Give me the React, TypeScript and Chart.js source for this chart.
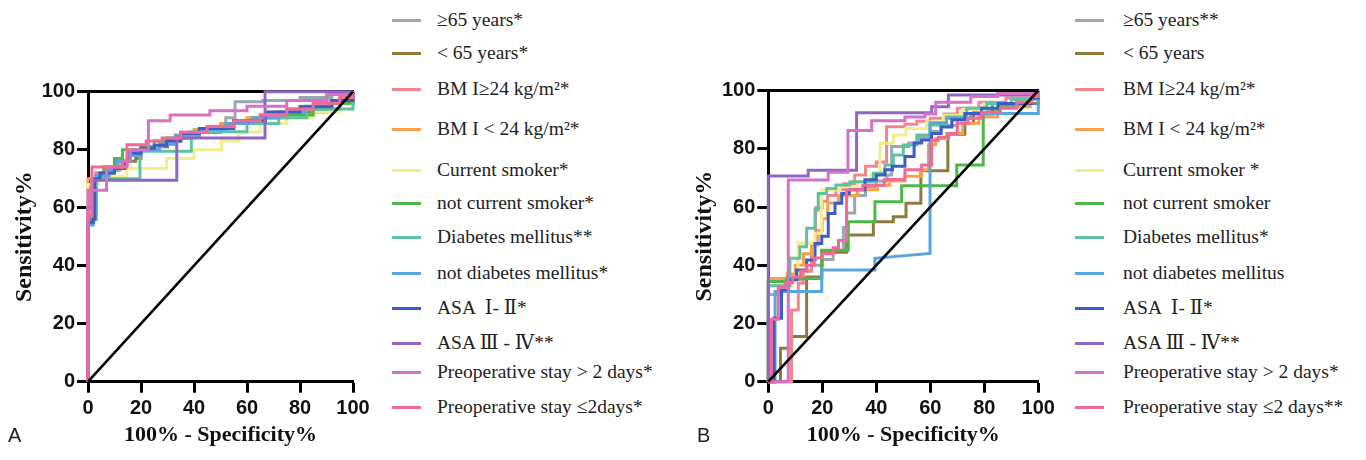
import React, { useEffect, useRef } from "react";
import { Chart, registerables } from "chart.js";

Chart.register(...registerables);

type Pt = [number, number];

// ---------- legend labels ----------
const LABELS_A = [
  "≥65 years*",
  "< 65 years*",
  "BM I≥24 kg/m²*",
  "BM I < 24 kg/m²*",
  "Current smoker*",
  "not current smoker*",
  "Diabetes mellitus**",
  "not diabetes mellitus*",
  "ASA  Ⅰ- Ⅱ*",
  "ASA Ⅲ - Ⅳ**",
  "Preoperative stay > 2 days*",
  "Preoperative stay ≤2days*",
];
const LABELS_B = [
  "≥65 years**",
  "< 65 years",
  "BM I≥24 kg/m²*",
  "BM I < 24 kg/m²*",
  "Current smoker *",
  "not current smoker",
  "Diabetes mellitus*",
  "not diabetes mellitus",
  "ASA  Ⅰ- Ⅱ*",
  "ASA Ⅲ - Ⅳ**",
  "Preoperative stay > 2 days*",
  "Preoperative stay ≤2 days**",
];

const AXIS_TICKS = [0, 20, 40, 60, 80, 100];
const X_TITLE = "100% - Specificity%";
const Y_TITLE = "Sensitivity%";

// ---------- panel A ROC curves (100%-specificity, sensitivity) ----------
const A_GE65: Pt[] = [[0,0],[0,57],[1.5,68],[3,72],[8,73],[12,76],[16,79],[20,80],[27,82],[33,84],[40,86],[48,88],[52,91],[55.5,96.5],[66,97],[80,98],[92,99],[100,100]];
const A_LT65: Pt[] = [[0,0],[0,56],[2,58],[3,70],[6,72],[10,74],[12,76],[18,77],[20,80],[26,81],[30,83],[35,85],[42,86],[50,88],[55,89],[63,91],[72,92],[80,93],[90,96],[100,98],[100,100]];
const A_BMI_GE24: Pt[] = [[0,0],[0,58],[2,60],[3,72],[8,73],[12,76],[15,79],[20,81],[28,83],[35,86],[45,88],[55,90],[65,92],[75,94],[85,96],[95,98],[100,100]];
const A_BMI_LT24: Pt[] = [[0,0],[0,70],[3,71],[6,73],[12,75],[15,78],[20,80],[27,82],[33,85],[40,87],[50,89],[60,91],[70,93],[80,95],[90,97],[100,99],[100,100]];
const A_SMOKER: Pt[] = [[0,0],[0,68],[4,70.7],[14.7,73.5],[29.7,77],[40,80],[50.4,83],[57,86],[65,89],[75,91],[85,93],[95,96],[100,97],[100,100]];
const A_NONSMOKER: Pt[] = [[0,0],[0,55],[2,56],[3,70],[6,74],[10,77],[13,80],[20,81],[25,83],[30,84],[38,86],[45,88],[55,90],[65,91],[75,92],[85,94],[95,96],[100,97],[100,100]];
const A_DM: Pt[] = [[0,0],[0,55],[2,70],[19.6,79.5],[39,86.2],[60,89],[72,91],[82.5,94],[100,94],[100,100]];
const A_NO_DM: Pt[] = [[0,0],[0,54],[2,56],[3,71],[8,73],[11,76],[15,78],[20,80],[27,82],[33,85],[42,87],[52,89],[62,91],[72,93],[82,95],[92,97],[100,98.5],[100,100]];
const A_ASA12: Pt[] = [[0,0],[0,55],[2,56],[2.5,70],[4.5,72],[10,73.5],[14,76],[15.8,78.8],[20,80.5],[25,81.5],[29.7,83],[35,85.6],[42,87.3],[55,90],[67,93],[80,94.8],[92,97],[100,99],[100,100]];
const A_ASA34: Pt[] = [[0,0],[0,60],[1.5,69.5],[33.5,84],[66.8,100],[100,100]];
const A_STAY_GT2: Pt[] = [[0,0],[0,66],[7,74],[13,76],[16,80],[22.8,90],[31,92],[46,93.4],[60,95],[75,97],[90,99],[100,100]];
const A_STAY_LE2: Pt[] = [[0,0],[0,57],[1.5,74],[14.7,81.7],[22,83],[28,84],[35,86],[45,88],[55,90],[65,92],[75,94],[85,96],[95,98],[100,100]];

// ---------- panel B ROC curves ----------
const B_GE65: Pt[] = [[0,0],[0,30],[4,33],[8,35],[12,38],[16,40],[20,42],[24,45],[27.8,53],[29,58],[32,64],[36,67],[40,69],[44,71],[45.7,80.8],[52,82],[56,84],[60,86],[64,88],[70,90.5],[76,93],[85,95],[95,97],[100,98.5],[100,100]];
const B_LT65: Pt[] = [[0,0],[4.5,11.5],[8.6,15.5],[14.2,36],[19.8,44.5],[29,50.4],[38.9,55],[46.3,56.7],[51,61.3],[56.5,72.5],[66.5,85],[72.8,88.8],[76,92],[83,95.6],[100,98],[100,100]];
const B_BMI_GE24: Pt[] = [[0,0],[8.6,24.6],[11.1,33.8],[13,38],[16,47.5],[17.5,59.8],[20,62],[22,64],[25,66],[28,68],[32,71],[36,74],[40,75.5],[43.8,87.6],[50.6,88.5],[55,89.5],[60,90.5],[65,92],[70,94],[78,96],[88,97.5],[100,99],[100,100]];
const B_BMI_LT24: Pt[] = [[0,0],[0,35.5],[7,37],[10,40],[13,44],[16,47],[18.5,52],[20,56],[22,61.4],[26,64],[33,66],[40.4,67.5],[45,69],[50.6,70.6],[56.8,72.8],[59.3,81.4],[62,83.6],[66,85.3],[72,88.8],[78,91],[85,94.5],[97,97.5],[100,99],[100,100]];
const B_SMOKER: Pt[] = [[0,0],[0,33],[8.6,36],[11,47.6],[17.3,51],[19.8,65.9],[26.5,67],[33,69],[38,71],[41.4,81.9],[46.3,84.8],[51,87],[58.6,89.3],[64.8,91.6],[72,93.5],[80,95.5],[90,97],[100,98.5],[100,100]];
const B_NONSMOKER: Pt[] = [[0,0],[0,34.4],[6.8,35.5],[19.8,45.2],[29.6,55],[39.5,61.8],[49.4,67.3],[69.8,74.5],[79.6,92.2],[85,95],[92,97],[100,98],[100,100]];
const B_DM: Pt[] = [[0,0],[0,33],[8,42.4],[11.7,46.4],[14.2,52.7],[17.3,59],[18.5,64.7],[21.6,66.4],[25,67.6],[30.2,68.7],[38.9,71.6],[43.2,74.5],[46.3,77.9],[50,81.3],[55,84.8],[59.9,88.2],[66,91],[73.5,94],[80.9,95.6],[90,97],[100,98],[100,100]];
// this curve contains a sloped (tied) segment, so its corners are listed explicitly
const B_NO_DM: Pt[] = [[0,0],[2.5,0],[2.5,31],[19.8,31],[19.8,38.4],[39.5,38.4],[39.5,42.4],[59.9,44.1],[59.9,89],[66,89],[66,90.5],[75,90.5],[75,92.2],[100,92.2],[100,100]];
const B_ASA12: Pt[] = [[0,0],[2.1,21.8],[4.9,31.5],[7.4,35],[10.5,38.4],[14.2,41.8],[17.3,47.5],[19.8,50],[22.2,57.8],[24.7,61.3],[27.2,64.7],[30,66],[35.8,69.4],[40,71],[43.2,72.8],[46,74],[50.6,77.4],[54,82],[56.8,83.1],[60.5,85.3],[64,87.5],[68,90],[72.8,92.2],[79,94],[85.2,95.6],[97.5,97.5],[100,99],[100,100]];
const B_ASA34: Pt[] = [[0,0],[0,70.7],[14.8,72.7],[32.7,92.4],[60.5,94.5],[66.7,98.5],[100,99],[100,100]];
const B_STAY_GT2: Pt[] = [[0,0],[7.4,69.3],[22.2,72],[29.5,86.3],[38.3,89.7],[50.6,91],[58,92],[62,96],[75,98],[85,99],[100,100]];
const B_STAY_LE2: Pt[] = [[0,0],[1.2,21.5],[3.7,32.5],[6.2,34],[9,36],[12,38],[14.2,40],[17,42.5],[20,44],[24,46],[26,48.5],[29,66],[35,67.5],[43,69.5],[50.6,72.8],[56.8,74.5],[60.5,83],[63,84],[66.7,85.3],[70,88.8],[74,90.5],[79,92.5],[86,94],[92,96],[97.5,98],[100,100]];

const REFERENCE_LINE: Pt[] = [[0,0],[100,100]];

const SERIES_A: Pt[][] = [A_GE65, A_LT65, A_BMI_GE24, A_BMI_LT24, A_SMOKER, A_NONSMOKER, A_DM, A_NO_DM, A_ASA12, A_ASA34, A_STAY_GT2, A_STAY_LE2];
const SERIES_B: Pt[][] = [B_GE65, B_LT65, B_BMI_GE24, B_BMI_LT24, B_SMOKER, B_NONSMOKER, B_DM, B_NO_DM, B_ASA12, B_ASA34, B_STAY_GT2, B_STAY_LE2];
const SLOPED_B = [false, false, false, false, false, false, false, true, false, false, false, false];
const SLOPED_A = SLOPED_B.map(() => false);

// ---------- styles ----------
const COLORS = [
  "#9aa6b4", "#8c7b3e", "#f2868e", "#f7a04a", "#f3ee8c", "#4cb848",
  "#5ec3a0", "#58a6e0", "#3c5cc6", "#9066c4", "#d472c6", "#f06a98",
];
const LEGEND_Y = [20, 53, 89, 129, 170, 203, 237, 273, 308, 343, 372, 407];
const SANS = '"Liberation Sans", Arial, Helvetica, sans-serif';
const SERIF = '"Liberation Serif", "Times New Roman", "DejaVu Serif", serif';

type PanelProps = {
  series: Pt[][];
  sloped: boolean[];
  left: number;
  padTop: number;
  padRight: number;
  axisWidth: number;
};

function RocPanel({ series, sloped, left, padTop, padRight, axisWidth }: PanelProps) {
  const ref = useRef<HTMLCanvasElement>(null);
  useEffect(() => {
    if (!ref.current) return;
    const datasets: any[] = series.map((pts, i) => ({
      label: String(i),
      data: pts.map(([x, y]) => ({ x, y })),
      borderColor: COLORS[i],
      backgroundColor: COLORS[i],
      borderWidth: 3,
      pointRadius: 0,
      fill: false,
      tension: 0,
      stepped: sloped[i] ? false : "before",
      clip: false,
      order: 20 - i,
    }));
    datasets.push({
      label: "ref",
      data: REFERENCE_LINE.map(([x, y]) => ({ x, y })),
      borderColor: "#000",
      borderWidth: 2.6,
      pointRadius: 0,
      fill: false,
      clip: false,
      order: 0,
    });
    const tickGrid = {
      display: true,
      drawOnChartArea: false,
      drawTicks: true,
      tickLength: 11,
      tickWidth: 3,
      tickColor: "#000",
    };
    const chart = new Chart(ref.current, {
      type: "line",
      data: { datasets },
      options: {
        responsive: false,
        animation: false,
        events: [],
        layout: { padding: { left: 0, top: padTop, right: padRight, bottom: 0 } },
        plugins: { legend: { display: false }, tooltip: { enabled: false } },
        scales: {
          x: {
            type: "linear",
            position: "bottom",
            min: AXIS_TICKS[0],
            max: AXIS_TICKS[AXIS_TICKS.length - 1],
            afterBuildTicks: (s: any) => { s.ticks = AXIS_TICKS.map((v) => ({ value: v })); },
            ticks: { font: { family: SANS, size: 20, weight: "bold" }, color: "#111", padding: 4, maxRotation: 0, autoSkip: false },
            grid: tickGrid,
            border: { display: true, color: "#000", width: 3 },
            title: { display: true, text: X_TITLE, font: { family: SERIF, size: 22, weight: "bold" }, color: "#111", padding: { top: 0, bottom: 11 } },
            afterFit: (s: any) => { s.height = 460 - 381.7; },
          },
          x2: {
            type: "linear",
            position: "top",
            min: 0,
            max: 100,
            ticks: { display: false },
            grid: { display: false },
            border: { display: true, color: "#000", width: 3 },
            afterFit: (s: any) => { s.height = 0; },
          },
          y: {
            type: "linear",
            position: "left",
            min: AXIS_TICKS[0],
            max: AXIS_TICKS[AXIS_TICKS.length - 1],
            afterBuildTicks: (s: any) => { s.ticks = AXIS_TICKS.map((v) => ({ value: v })); },
            ticks: { font: { family: SANS, size: 20, weight: "bold" }, color: "#111", padding: 2 },
            grid: tickGrid,
            border: { display: true, color: "#000", width: 3 },
            title: { display: true, text: Y_TITLE, font: { family: SERIF, size: 24, weight: "bold" }, color: "#111", padding: { top: 10, bottom: 0 } },
            afterFit: (s: any) => { s.width = axisWidth; },
          },
        },
      } as any,
    });
    return () => chart.destroy();
  }, []);
  return (
    <canvas
      ref={ref}
      width={380}
      height={460}
      style={{ position: "absolute", left, top: 0, width: 380, height: 460 }}
    />
  );
}

function Legend({ labels, lineLeft, textLeft }: { labels: string[]; lineLeft: number; textLeft: number }) {
  return (
    <>
      {labels.map((lab, i) => (
        <React.Fragment key={i}>
          <div
            style={{
              position: "absolute",
              left: lineLeft,
              top: LEGEND_Y[i] - 1.5,
              width: 29,
              height: 3,
              background: COLORS[i],
            }}
          />
          <div
            style={{
              position: "absolute",
              left: textLeft,
              top: LEGEND_Y[i] - 11,
              height: 22,
              lineHeight: "22px",
              fontFamily: SERIF,
              fontSize: 19.5,
              color: "#222",
              whiteSpace: "pre",
            }}
          >
            {lab}
          </div>
        </React.Fragment>
      ))}
    </>
  );
}

export default function App() {
  return (
    <div
      style={{
        position: "fixed",
        left: 0,
        top: 0,
        width: 1366,
        height: 460,
        background: "#ffffff",
        overflow: "hidden",
      }}
    >
      <RocPanel series={SERIES_A} sloped={SLOPED_A} left={0} padTop={91.7} padRight={27} axisWidth={88} />
      <RocPanel series={SERIES_B} sloped={SLOPED_B} left={680} padTop={90.7} padRight={21.7} axisWidth={88.3} />
      <Legend labels={LABELS_A} lineLeft={392} textLeft={437} />
      <Legend labels={LABELS_B} lineLeft={1075} textLeft={1123} />
      <div style={{ position: "absolute", left: 8, top: 425, fontFamily: SANS, fontSize: 20, lineHeight: "20px", color: "#222" }}>A</div>
      <div style={{ position: "absolute", left: 697, top: 425, fontFamily: SANS, fontSize: 20, lineHeight: "20px", color: "#222" }}>B</div>
    </div>
  );
}
